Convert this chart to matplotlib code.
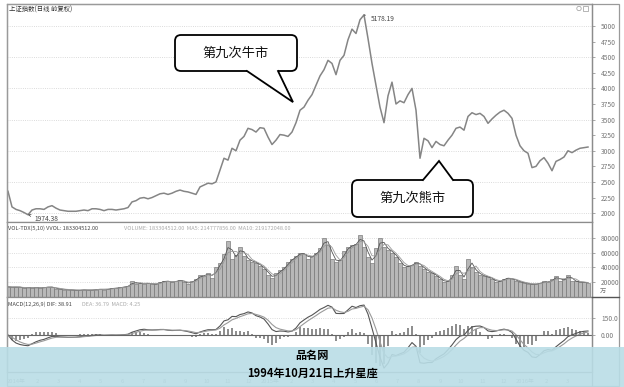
import numpy as np
import pandas as pd
import matplotlib
matplotlib.use("Agg")
import matplotlib.pyplot as plt
from matplotlib.patches import FancyBboxPatch, Polygon, Rectangle

plt.rcParams['font.family'] = ['Noto Sans CJK SC', 'DejaVu Sans']

W, H = 624, 387

# 上证指数, one sample about every 4 trading days
close = [2350, 2100, 2060, 2040, 2010, 1974.38, 2050, 2070, 2070, 2060,
         2100, 2120, 2080, 2050, 2040, 2030, 2030, 2030, 2040, 2050,
         2040, 2070, 2070, 2060, 2040, 2060, 2060, 2050, 2060, 2070,
         2090, 2180, 2200, 2240, 2250, 2230, 2250, 2280, 2310, 2320,
         2300, 2320, 2350, 2370, 2350, 2340, 2320, 2300, 2420, 2450,
         2480, 2470, 2500, 2690, 2880, 2850, 3040, 3000, 3170, 3230,
         3360, 3340, 3300, 3370, 3360, 3220, 3100, 3170, 3260, 3250,
         3230, 3300, 3450, 3650, 3700, 3810, 3900, 4050, 4200, 4300,
         4450, 4400, 4220, 4450, 4530, 4780, 4950, 4880, 5100, 5178.19,
         4800, 4400, 4050, 3700, 3450, 3880, 4100, 3750, 3800, 3770,
         3900, 4000, 3650, 2880, 3200, 3160, 3050, 3150, 3100, 3080,
         3170, 3250, 3360, 3380, 3330, 3550, 3610, 3580, 3600, 3550,
         3440, 3510, 3570, 3620, 3650, 3600, 3520, 3250, 3080, 3000,
         2960, 2730, 2750, 2840, 2890, 2800, 2680, 2830, 2860, 2900,
         3000, 2970, 3010, 3040, 3050, 3060]

volume = [14000, 13000, 14000, 13000, 12000, 13000, 12000, 13000, 12000, 13000,
          14000, 13000, 11000, 11000, 10000, 10000, 9500, 9000, 9500, 10000,
          9000, 10000, 10000, 11000, 10000, 11000, 12000, 12000, 13000, 14000,
          15000, 21000, 18000, 19000, 18000, 19000, 17000, 18000, 20000, 22000,
          21000, 20000, 22000, 23000, 20000, 18000, 22000, 24000, 30000, 28000,
          33000, 26000, 40000, 46000, 58000, 76000, 52000, 57000, 68000, 55000,
          50000, 48000, 46000, 42000, 38000, 30000, 26000, 32000, 36000, 40000,
          48000, 52000, 56000, 60000, 58000, 52000, 56000, 60000, 66000, 80000,
          70000, 52000, 48000, 50000, 62000, 68000, 70000, 72000, 84000, 68000,
          54000, 46000, 66000, 80000, 68000, 64000, 60000, 54000, 46000, 40000,
          42000, 44000, 48000, 42000, 38000, 34000, 32000, 28000, 24000, 20000,
          22000, 30000, 42000, 30000, 24000, 52000, 40000, 34000, 30000, 28000,
          27000, 24000, 20000, 22000, 25000, 26000, 24000, 22000, 20000, 19000,
          18000, 17000, 18000, 19000, 21000, 20000, 24000, 28000, 22000, 24000,
          30000, 22000, 21000, 20000, 20000, 19000]

price_ticks = [2000, 2250, 2500, 2750, 3000, 3250, 3500, 3750,
               4000, 4250, 4500, 4750, 5000]
vol_ticks = [20000, 40000, 60000, 80000]
macd_ticks = [0, 150]
macd_tick_labels = ["0.00", "150.0"]
date_labels = ["2014年", "2", "3", "4", "5", "6", "7", "8", "9", "10", "11", "12",
               "2015年", "2", "3", "4", "5", "6", "7", "8", "9", "10", "11", "12",
               "2016年", "2", "3"]

title_text = "上证指数(日线 前复权)"
vol_head1 = "VOL-TDX(5,10) VVOL: 183304512.00"
vol_head2 = "VOLUME: 183304512.00  MA5: 214777856.00  MA10: 219172048.00"
macd_head1 = "MACD(12,26,9) DIF: 38.91"
macd_head2 = "DEA: 36.79  MACD: 4.25"
bull_text = "第九次牛市"
bear_text = "第九次熊市"
banner_lines = ["品名网", "1994年10月21日上升星座"]

# samples are a few trading days apart, so scale the indicator periods
step = 2.6
s = pd.Series(close, dtype=float)
dif = s.ewm(span=12 / step, adjust=False).mean() - s.ewm(span=26 / step, adjust=False).mean()
dea = dif.ewm(span=9 / step, adjust=False).mean()
hist = 2 * (dif - dea)
v = pd.Series(volume, dtype=float)
ma5 = v.rolling(2, min_periods=1).mean()
ma10 = v.rolling(3, min_periods=1).mean()
idx = np.arange(len(close))


def rect(x0, y0, x1, y1):
    return [x0 / W, 1 - y1 / H, (x1 - x0) / W, (y1 - y0) / H]


fig = plt.figure(figsize=(W / 100, H / 100), dpi=100)
fig.patch.set_facecolor('white')

ax = fig.add_axes(rect(7, 4, 592, 222))
axv = fig.add_axes(rect(7, 222, 592, 297))
axm = fig.add_axes(rect(7, 297, 592, 372))

for a in (ax, axv, axm):
    a.set_xlim(-0.25, len(close))
    for sp in a.spines.values():
        sp.set_color('#8c8c8c')
        sp.set_linewidth(0.9)
    a.yaxis.tick_right()
    a.tick_params(axis='y', length=2.5, width=0.6, colors='#999999',
                  labelsize=4.8, labelcolor='#777777', pad=4)
    a.set_xticks([])

# price
ax.plot(idx, close, color='#858585', lw=1.1)
ax.set_ylim(1858, 5353)
ax.set_yticks(price_ticks)
ax.set_yticklabels([str(t) for t in price_ticks])
for g in price_ticks[::2]:
    ax.axhline(g, color='#cfcfcf', lw=0.6, ls=':', zorder=0)

ip = int(np.argmax(close))
ax.annotate(f"{close[ip]:.2f}", xy=(ip, close[ip]), xytext=(5, -3),
            textcoords='offset points', fontsize=4.8, color='#444444',
            va='center', arrowprops=dict(arrowstyle='-', color='#444444', lw=0.6))
il = int(np.argmin(close))
ax.annotate(f"{close[il]:.2f}", xy=(il, close[il]), xytext=(5, -3),
            textcoords='offset points', fontsize=4.8, color='#444444',
            va='center', arrowprops=dict(arrowstyle='->', color='#444444', lw=0.5,
                                         mutation_scale=4))

# volume
axv.bar(idx, volume, width=0.8, color='#b8b8b8', edgecolor='#727272', lw=0.45)
axv.plot(idx, ma5, color='#555555', lw=0.6)
axv.plot(idx, ma10, color='#9a9a9a', lw=0.6)
axv.set_ylim(0, 101600)
axv.set_yticks(vol_ticks)
axv.set_yticklabels([str(t) for t in vol_ticks])
for g in vol_ticks:
    axv.axhline(g, color='#d2d2d2', lw=0.6, ls=':', zorder=0)

# macd
axm.bar(idx, hist, width=0.55, color='#8f8f8f')
axm.plot(idx, dif, color='#555555', lw=0.8)
axm.plot(idx, dea, color='#9a9a9a', lw=0.8)
axm.axhline(0, color='#666666', lw=0.8)
axm.axhline(150, color='#d2d2d2', lw=0.6, ls=':', zorder=0)
axm.set_ylim(-326, 335)
axm.set_yticks(macd_ticks)
axm.set_yticklabels(macd_tick_labels)
axm.set_xticks(2 + np.arange(len(date_labels)) * 5.3)
axm.set_xticklabels(date_labels)
axm.tick_params(axis='x', length=0, labelsize=4.2, labelcolor='#888888', pad=5)

# overlay in pixel coordinates
ov = fig.add_axes([0, 0, 1, 1], zorder=10)
ov.set_xlim(0, W)
ov.set_ylim(H, 0)
ov.axis('off')
ov.patch.set_visible(False)

ov.add_patch(Rectangle((7, 4), 612, 382, fill=False, ec='#9a9a9a', lw=0.9))
ov.plot([592, 592], [4, 386], color='#8c8c8c', lw=0.9)
ov.plot([592, 619], [297, 297], color='#555555', lw=1.0)
ov.add_patch(Rectangle((583, 6), 5, 5, fill=False, ec='#999999', lw=0.5))
ov.add_patch(plt.Circle((579, 8.5), 2.2, fill=False, ec='#999999', lw=0.5))

ov.text(9, 10, title_text, fontsize=4.6, color='#333333', va='center')
ov.text(8, 228, vol_head1, fontsize=4.0, color='#444444', va='center')
ov.text(124, 228, vol_head2, fontsize=4.0, color='#aaaaaa', va='center')
ov.text(8, 304, macd_head1, fontsize=4.0, color='#444444', va='center')
ov.text(82, 304, macd_head2, fontsize=4.0, color='#aaaaaa', va='center')
ov.text(600, 291, "万", fontsize=4.5, color='#777777', va='center')


def to_px(x, y):
    px, py = ax.transData.transform((x, y))
    return px, H - py


def callout(box, base, tip, text):
    x0, y0, x1, y1 = box
    bx0, bx1, by, inward = base
    ov.add_patch(FancyBboxPatch((x0, y0), x1 - x0, y1 - y0,
                                boxstyle="round,pad=0,rounding_size=6",
                                fc='white', ec='black', lw=1.3, zorder=5))
    ov.add_patch(Polygon([(bx0, by + inward), (bx0, by), tip, (bx1, by),
                          (bx1, by + inward)], closed=True, fc='white',
                         ec='none', zorder=6))
    ov.plot([bx0, tip[0], bx1], [by, tip[1], by], color='black', lw=1.3,
            zorder=7, solid_joinstyle='miter')
    ov.text((x0 + x1) / 2, (y0 + y1) / 2, text, fontsize=9.5, color='#111111',
            ha='center', va='center', zorder=8)


callout((175, 35, 297, 71), (247, 278, 71, -2), to_px(71.25, 3780), bull_text)
callout((352, 180, 473, 217), (423, 453, 180, 2), to_px(107.75, 2836), bear_text)

# banner
ov.add_patch(Rectangle((0, 347), W, 40, fc='#b9dde6', ec='none', alpha=0.9, zorder=20))
ov.text(W / 2, 356, banner_lines[0], fontsize=8, fontweight='bold', color='black',
        ha='center', va='center', zorder=21)
ov.text(W / 2, 373, banner_lines[1], fontsize=8, fontweight='bold', color='black',
        ha='center', va='center', zorder=21)

fig.savefig('out.png', dpi=100)
